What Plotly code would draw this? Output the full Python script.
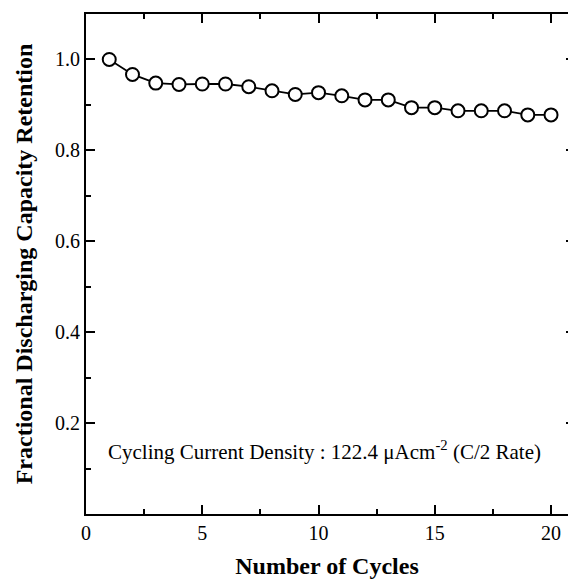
import plotly.graph_objects as go

cycles = list(range(1, 21))
retention = [1.000, 0.967, 0.948, 0.945, 0.946, 0.946, 0.940, 0.931, 0.923, 0.927,
             0.920, 0.911, 0.911, 0.894, 0.894, 0.887, 0.887, 0.887, 0.878, 0.878]

x_ticks = [0, 5, 10, 15, 20]
y_ticks = [0.2, 0.4, 0.6, 0.8, 1.0]
y_tick_text = ["0.2", "0.4", "0.6", "0.8", "1.0"]

FONT = "Liberation Serif"
XR = [0, 20.73]
YR = [0, 1.1]

fig = go.Figure()
fig.add_trace(go.Scatter(
    x=cycles, y=retention, mode="lines+markers",
    line=dict(color="black", width=1.8),
    marker=dict(symbol="circle", size=13, color="white", line=dict(color="black", width=2)),
    showlegend=False, hoverinfo="skip"))
# invisible traces to activate the mirror axes
fig.add_trace(go.Scatter(x=[None], y=[None], xaxis="x2", yaxis="y", showlegend=False))
fig.add_trace(go.Scatter(x=[None], y=[None], xaxis="x", yaxis="y2", showlegend=False))

axis_common = dict(showgrid=False, zeroline=False, linecolor="black", linewidth=2,
                   ticks="inside", tickcolor="black", tickwidth=1.5, ticklen=9)
minor_x = dict(dtick=2.5, tick0=0, ticks="inside", ticklen=5, tickcolor="black", tickwidth=1.5)

fig.update_layout(
    width=568, height=584,
    margin=dict(l=86, r=0, t=14, b=70),
    paper_bgcolor="white", plot_bgcolor="white",
    font=dict(family=FONT, color="black", size=20),
    xaxis=dict(range=XR, tickvals=x_ticks, showline=True,
               tickfont=dict(size=20, family=FONT),
               minor=minor_x,
               title=dict(text="<b>Number of Cycles</b>", font=dict(size=24, family=FONT), standoff=14),
               **axis_common),
    xaxis2=dict(range=XR, overlaying="x", side="top", anchor="y", tickvals=x_ticks, showline=True,
                showticklabels=False, minor=minor_x, **axis_common),
    yaxis=dict(range=YR, tickvals=y_ticks, ticktext=y_tick_text, showline=True,
               tickfont=dict(size=20, family=FONT),
               minor=dict(dtick=0.1, tick0=0, ticks="inside", ticklen=5, tickcolor="black", tickwidth=1.5),
               **axis_common),
    yaxis2=dict(range=YR, overlaying="y", side="right", anchor="x", tickvals=y_ticks,
                showticklabels=False, showline=False, showgrid=False, zeroline=False,
                ticks="inside", ticklen=2, tickcolor="black", tickwidth=1.5),
)

fig.add_annotation(
    text="<b>Fractional Discharging Capacity Retention</b>",
    xref="paper", yref="paper", x=-0.128, y=0.5, textangle=-90,
    showarrow=False, font=dict(size=24, family=FONT, color="black"),
    xanchor="center", yanchor="middle")

fig.add_annotation(
    text="Cycling Current Density : 122.4 μAcm<sup>-2</sup> (C/2 Rate)",
    xref="x", yref="y", x=0.88, y=0.14, xanchor="left", yanchor="middle",
    showarrow=False, font=dict(size=21, family=FONT, color="black"))

fig.write_html("out.html")
